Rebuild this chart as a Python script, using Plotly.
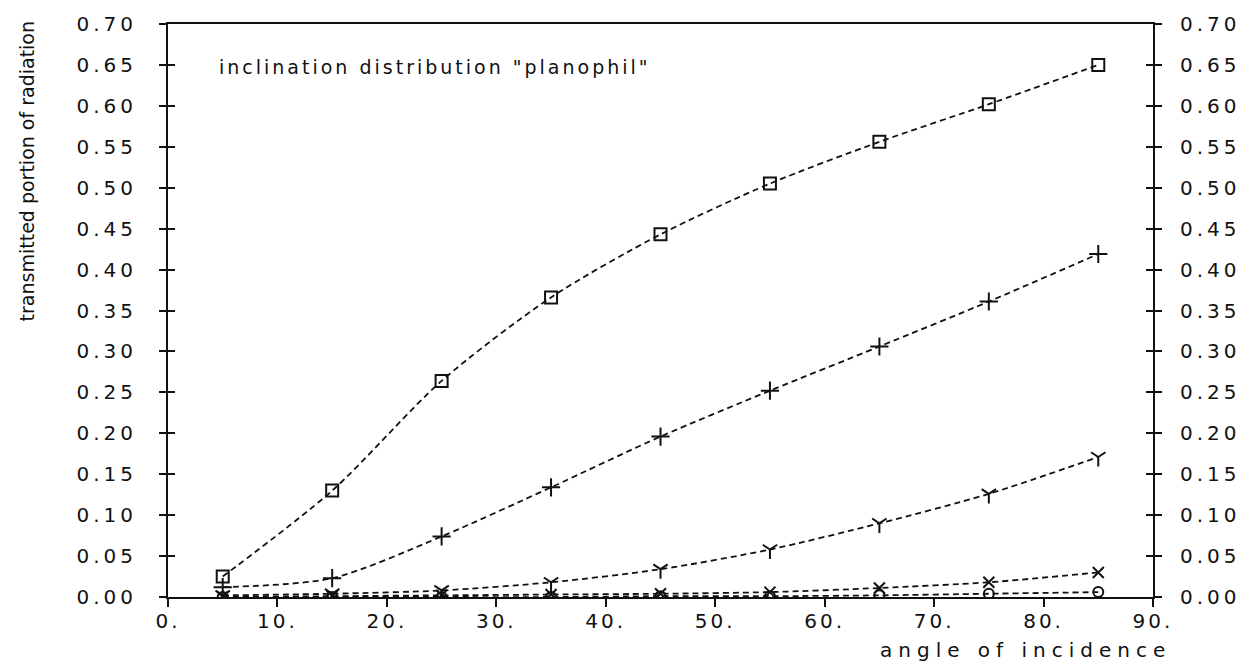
import plotly.graph_objects as go

# Angle of incidence (degrees) at which the transmission was computed
angles = [5, 15, 25, 35, 45, 55, 65, 75, 85]

# Transmitted portion of radiation, one list per curve
trans_square = [0.025, 0.130, 0.264, 0.366, 0.443, 0.505, 0.556, 0.602, 0.650]
trans_plus = [0.012, 0.023, 0.074, 0.134, 0.196, 0.252, 0.306, 0.361, 0.419]
trans_y = [0.002, 0.004, 0.008, 0.018, 0.034, 0.058, 0.090, 0.126, 0.171]
trans_x = [0.000, 0.001, 0.002, 0.003, 0.004, 0.006, 0.011, 0.018, 0.030]
trans_circle = [0.000, 0.000, 0.000, 0.000, 0.001, 0.001, 0.002, 0.004, 0.006]

# Tick positions and their printed labels
x_tickvals = [0, 10, 20, 30, 40, 50, 60, 70, 80, 90]
x_ticklabels = ["0.", "10.", "20.", "30.", "40.", "50.", "60.", "70.", "80.", "90."]
y_tickvals = [0.00, 0.05, 0.10, 0.15, 0.20, 0.25, 0.30, 0.35, 0.40, 0.45, 0.50, 0.55, 0.60, 0.65, 0.70]
y_ticklabels = ["0.00", "0.05", "0.10", "0.15", "0.20", "0.25", "0.30", "0.35",
                "0.40", "0.45", "0.50", "0.55", "0.60", "0.65", "0.70"]

INK = "#111111"
FONT = "DejaVu Sans"


def spaced(s, px=4):
    return f'<span style="letter-spacing:{px}px">{s}</span>'


series = [
    (trans_circle, "circle-open", 10),
    (trans_x, "x-thin-open", 11),
    (trans_y, "y-down-open", 12),
    (trans_plus, "cross-thin-open", 13),
    (trans_square, "square-open", 12),
]

fig = go.Figure()
for vals, sym, size in series:
    fig.add_trace(go.Scatter(
        x=angles, y=vals, mode="lines+markers",
        line=dict(color=INK, width=1.8, dash="6px,4px", shape="spline", smoothing=0.8),
        marker=dict(symbol=sym, size=size, color=INK, line=dict(color=INK, width=2)),
        showlegend=False, hoverinfo="skip",
    ))

# empty traces so the auxiliary tick axes get drawn
fig.add_trace(go.Scatter(x=[], y=[], yaxis="y2", showlegend=False))
fig.add_trace(go.Scatter(x=[], y=[], yaxis="y3", showlegend=False))

tick_font = dict(family=FONT, size=20, color=INK)

fig.update_layout(
    width=1256, height=666,
    margin=dict(l=168, r=103, t=22, b=69),
    paper_bgcolor="white", plot_bgcolor="white",
    xaxis=dict(
        range=[0, 90], tickmode="array", tickvals=x_tickvals,
        ticktext=[spaced(t, 3) for t in x_ticklabels],
        ticks="outside", ticklen=8, tickwidth=1.8, tickcolor=INK,
        showline=True, linecolor=INK, linewidth=2, mirror=True,
        showgrid=False, zeroline=False, tickfont=tick_font, ticklabelstandoff=-3,
    ),
    yaxis=dict(
        range=[0, 0.70], tickmode="array", tickvals=y_tickvals,
        ticktext=[spaced(t, 4) for t in y_ticklabels],
        ticks="outside", ticklen=7, tickwidth=1.8, tickcolor=INK,
        showline=True, linecolor=INK, linewidth=2,
        showgrid=False, zeroline=False, tickfont=tick_font, ticklabelstandoff=18,
    ),
    yaxis2=dict(
        range=[0, 0.70], overlaying="y", side="right", tickmode="array",
        tickvals=y_tickvals, ticktext=[spaced(t, 4) for t in y_ticklabels],
        ticks="outside", ticklen=7, tickwidth=1.8, tickcolor=INK,
        showline=True, linecolor=INK, linewidth=2,
        showgrid=False, zeroline=False, tickfont=tick_font, ticklabelstandoff=14,
    ),
    yaxis3=dict(
        range=[0, 0.70], overlaying="y", side="left", tickmode="array",
        tickvals=y_tickvals, ticks="inside", ticklen=7, tickwidth=1.8, tickcolor=INK,
        mirror="ticks", showticklabels=False, showline=False,
        showgrid=False, zeroline=False,
    ),
    annotations=[
        dict(text=spaced('inclination distribution "planophil"', 3),
             xref="paper", yref="paper", x=0.0497, y=0.925,
             xanchor="left", yanchor="middle", showarrow=False,
             font=dict(family=FONT, size=19, color=INK)),
        dict(text=spaced("angle of incidence", 6),
             xref="paper", yref="paper", x=1.02, y=-0.092,
             xanchor="right", yanchor="middle", showarrow=False,
             font=dict(family=FONT, size=20, color=INK)),
        dict(text="transmitted portion of radiation",
             xref="paper", yref="paper", x=-0.143, y=0.743,
             xanchor="center", yanchor="middle", textangle=-90, showarrow=False,
             font=dict(family=FONT, size=19, color=INK)),
    ],
)

fig.write_html("out.html")
